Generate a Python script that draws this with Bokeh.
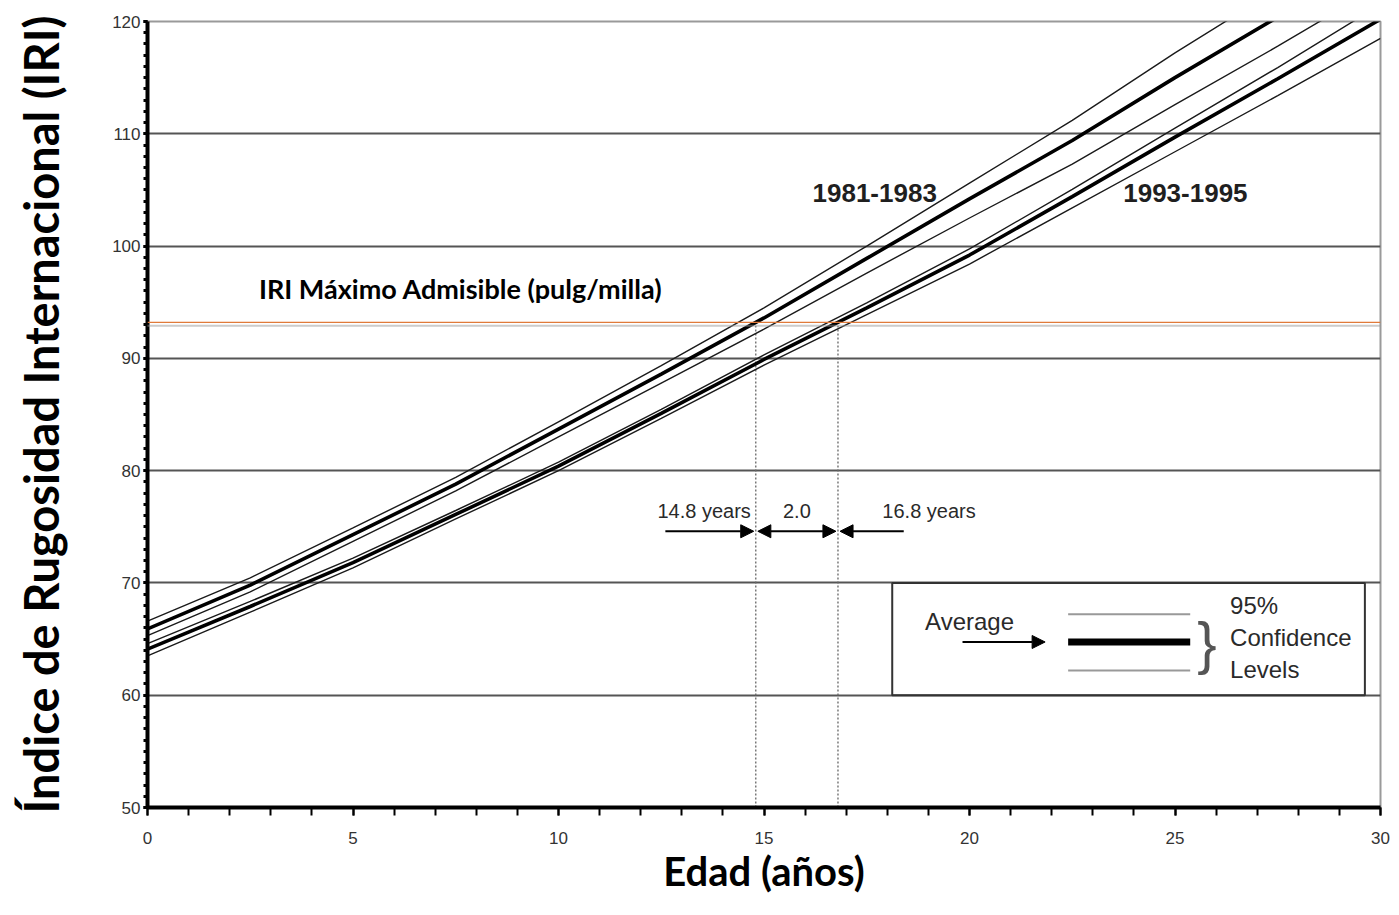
from bokeh.plotting import figure
from bokeh.models import (Range1d, Label, Arrow, NormalHead, BoxAnnotation,
                          FixedTicker, Span)
from bokeh.embed import file_html
from bokeh.resources import INLINE

# ---------------- data ----------------
edad = [0, 2.5, 5, 7.5, 10, 12.5, 15, 17.5, 20, 22.5, 25, 27.5, 30]

iri_8183_avg = [65.9, 69.8, 74.3, 78.8, 83.7, 88.6, 93.6, 98.9, 104.2, 109.4, 115.0, 120.4, 126.0]
iri_8183_up = [66.6, 70.45, 74.9, 79.4, 84.35, 89.35, 94.5, 100.0, 105.6, 111.2, 117.2, 122.9, 128.8]
iri_8183_lo = [65.3, 69.2, 73.7, 78.2, 83.0, 87.8, 92.6, 97.6, 102.5, 107.3, 112.6, 117.8, 123.2]

iri_9395_avg = [64.1, 67.9, 71.8, 76.1, 80.4, 85.1, 89.9, 94.5, 99.2, 104.4, 109.7, 114.9, 120.2]
iri_9395_up = [64.6, 68.35, 72.2, 76.45, 80.75, 85.45, 90.3, 94.95, 99.75, 105.05, 110.5, 115.9, 121.5]
iri_9395_lo = [63.5, 67.4, 71.35, 75.7, 80.0, 84.65, 89.4, 93.9, 98.4, 103.4, 108.4, 113.4, 118.5]

iri_max = 93.2
vida_8183 = 14.8
vida_9395 = 16.8
y_ticks = [50, 60, 70, 80, 90, 100, 110, 120]
x_ticks = [0, 5, 10, 15, 20, 25, 30]

# ---------------- figure ----------------
p = figure(width=1391, height=907, output_backend="svg", toolbar_location=None,
           x_range=Range1d(0, 30), y_range=Range1d(50, 120),
           min_border_left=147, min_border_right=11, min_border_top=21,
           min_border_bottom=100)
p.background_fill_color = "white"
p.border_fill_color = "white"
p.outline_line_color = "#9a9a9a"
p.outline_line_width = 2

p.xgrid.visible = False
p.ygrid.ticker = FixedTicker(ticks=y_ticks)
p.ygrid.grid_line_color = "#555555"
p.ygrid.grid_line_width = 2

# axes
p.xaxis.ticker = FixedTicker(ticks=x_ticks, minor_ticks=list(range(0, 31)))
p.yaxis.ticker = FixedTicker(ticks=y_ticks, minor_ticks=list(range(50, 121)))
for ax in (p.xaxis, p.yaxis):
    ax.axis_line_width = 4
    ax.axis_line_color = "black"
    ax.major_tick_line_color = "black"
    ax.minor_tick_line_color = "black"
    ax.major_tick_in = 0
    ax.minor_tick_in = 0
    ax.major_label_text_font = "Liberation Sans"
    ax.major_label_text_font_size = "17px"
    ax.major_label_text_color = "#333333"
    ax.axis_label_text_font = "Lato"
    ax.axis_label_text_font_style = "bold"
    ax.axis_label_text_color = "black"

p.xaxis.major_tick_out = 8
p.xaxis.minor_tick_out = 8
p.xaxis.major_tick_line_width = 2
p.xaxis.minor_tick_line_width = 2
p.xaxis.major_label_standoff = 16
p.xaxis.axis_label = "Edad (años)"
p.xaxis.axis_label_text_font_size = "40px"
p.xaxis.axis_label_standoff = 0

p.yaxis.major_tick_out = 4
p.yaxis.minor_tick_out = 4
p.yaxis.major_tick_line_width = 3
p.yaxis.minor_tick_line_width = 3
p.yaxis.major_label_standoff = 3
p.yaxis.axis_label = "Índice de Rugosidad Internacional (IRI)"
p.yaxis.axis_label_text_font_size = "47px"
p.yaxis.axis_label_standoff = 40

# maximum admissible IRI
p.add_layout(Span(location=iri_max - 0.3, dimension="width", line_color="#999999",
                  line_width=2, line_dash="1 1"))
p.add_layout(Span(location=iri_max, dimension="width", line_color="#e07a3a",
                  line_width=1.2))

# vertical dotted lines at service lives
for v in (vida_8183, vida_9395):
    p.segment(x0=[v], y0=[50], x1=[v], y1=[iri_max - 0.3], line_color="#666666",
              line_width=1.3, line_dash="2 2")

# curves
thin = dict(line_color="#1a1a1a", line_width=1.4)
thick = dict(line_color="black", line_width=3.6)
p.line(edad, iri_8183_up, **thin)
p.line(edad, iri_8183_lo, **thin)
p.line(edad, iri_9395_up, **thin)
p.line(edad, iri_9395_lo, **thin)
p.line(edad, iri_8183_avg, **thick)
p.line(edad, iri_9395_avg, **thick)

# texts
def lab(x, y, text, size, font="Liberation Sans", style="normal", color="#2a2a2a",
        align="left"):
    p.add_layout(Label(x=x, y=y, text=text, text_font=font, text_font_size=size,
                       text_font_style=style, text_color=color, text_align=align,
                       text_baseline="middle"))

lab(2.71, 96.2, "IRI Máximo Admisible (pulg/milla)", "27px", font="Lato",
    style="bold", color="black")
lab(16.18, 104.76, "1981-1983", "26px", style="bold", color="#1f1f1f")
lab(23.74, 104.76, "1993-1995", "26px", style="bold", color="#1f1f1f")

arrow_y = 74.6
lab(vida_8183 - 0.12, 76.4, "14.8 years", "20px", align="right")
lab((vida_8183 + vida_9395) / 2, 76.4, "2.0", "20px", align="center")
lab(vida_9395 + 1.08, 76.4, "16.8 years", "20px")

head = lambda: NormalHead(size=13, fill_color="black", line_color="black")
p.add_layout(Arrow(end=head(), x_start=vida_8183 - 2.2, y_start=arrow_y,
                   x_end=vida_8183 - 0.05, y_end=arrow_y, line_width=2))
p.add_layout(Arrow(start=head(), end=head(), x_start=vida_8183 + 0.05, y_start=arrow_y,
                   x_end=vida_9395 - 0.05, y_end=arrow_y, line_width=2))
p.add_layout(Arrow(end=head(), x_start=vida_9395 + 1.6, y_start=arrow_y,
                   x_end=vida_9395 + 0.05, y_end=arrow_y, line_width=2))

# legend box
p.add_layout(BoxAnnotation(left=18.12, right=29.62, bottom=60, top=70,
                           fill_alpha=0, line_color="#333333", line_alpha=1,
                           line_width=2))
lab(18.92, 66.6, "Average", "24px")
p.add_layout(Arrow(end=head(), x_start=19.83, y_start=64.74, x_end=21.84,
                   y_end=64.74, line_width=2))
p.segment(x0=[22.4], y0=[64.74], x1=[25.37], y1=[64.74], line_color="black",
          line_width=7)
p.segment(x0=[22.4, 22.4], y0=[67.2, 62.2], x1=[25.37, 25.37], y1=[67.2, 62.2],
          line_color="#999999", line_width=2)
lab(25.78, 64.7, "}", "58px", font="Liberation Sans", color="#555555", align="center")
lab(26.34, 67.95, "95%", "24px")
lab(26.34, 65.1, "Confidence", "24px")
lab(26.34, 62.3, "Levels", "24px")

open("out.html", "w").write(file_html(p, INLINE))
